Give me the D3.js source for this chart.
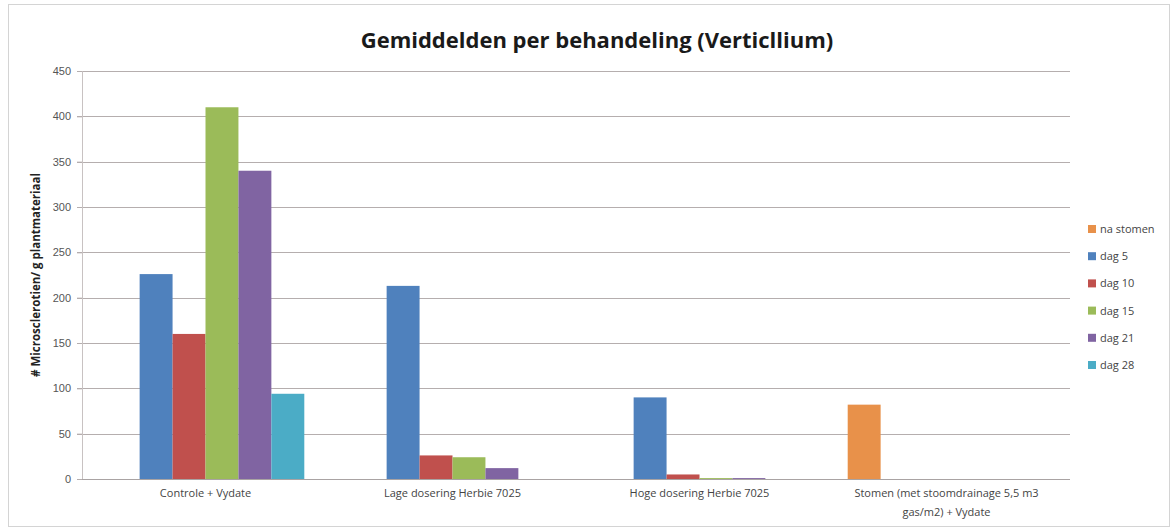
<!DOCTYPE html>
<html>
<head>
<meta charset="utf-8">
<script src="https://cdn.jsdelivr.net/npm/d3@7"></script>
<style>
  body { margin: 0; background: #fff; }
  svg { display: block; font-family: "Open Sans", "Noto Sans", sans-serif; }
</style>
</head>
<body>
<div id="chart"></div>
<script>
// Chart data
const categories = [
  "Controle + Vydate",
  "Lage dosering Herbie 7025",
  "Hoge dosering Herbie 7025",
  "Stomen (met stoomdrainage 5,5 m3|gas/m2) + Vydate"
];
const seriesNames = ["na stomen", "dag 5", "dag 10", "dag 15", "dag 21", "dag 28"];
const seriesColors = ["#E8914A", "#4F81BD", "#C0504D", "#9BBB59", "#8064A2", "#4BACC6"];
const naStomen = [0, 0, 0, 82];
const dag5 = [226, 213, 90, 0];
const dag10 = [160, 26, 5, 0];
const dag15 = [410, 24, 1, 0];
const dag21 = [340, 12, 1, 0];
const dag28 = [94, 0, 0, 0];
const yTicks = [0, 50, 100, 150, 200, 250, 300, 350, 400, 450];

const seriesValues = [naStomen, dag5, dag10, dag15, dag21, dag28];

const width = 1174, height = 530;
const margin = { top: 71, right: 104, bottom: 51, left: 82 };

const svg = d3.select("#chart").append("svg")
    .attr("width", width)
    .attr("height", height);

// outer frame
svg.append("rect")
    .attr("x", 8.5).attr("y", 4.5)
    .attr("width", width - 13).attr("height", height - 8)
    .attr("fill", "#fff")
    .attr("stroke", "#d4d4d4");

const x0 = d3.scaleBand()
    .domain(categories)
    .range([margin.left, width - margin.right])
    .paddingInner(0.2)
    .paddingOuter(0.1);

const x1 = d3.scaleBand()
    .domain(seriesNames)
    .range([0, x0.bandwidth()]);

const y = d3.scaleLinear()
    .domain([0, 450])
    .range([height - margin.bottom, margin.top]);

// grid lines
svg.append("g")
    .selectAll("line")
    .data(yTicks.filter(d => d > 0))
    .join("line")
    .attr("x1", margin.left - 5)
    .attr("x2", width - margin.right)
    .attr("y1", d => Math.round(y(d)) + 0.5)
    .attr("y2", d => Math.round(y(d)) + 0.5)
    .attr("stroke", "#b5aeae")
    .attr("stroke-width", 1);

// y axis
const yAxis = svg.append("g")
    .attr("transform", `translate(${margin.left},0)`)
    .call(d3.axisLeft(y).tickValues(yTicks).tickSize(5).tickPadding(6));
yAxis.select(".domain").attr("stroke", "#c8c2c2");
yAxis.selectAll(".tick line").attr("stroke", "#b5aeae");
yAxis.selectAll("text")
    .attr("fill", "#555")
    .style("font-size", "11px");

// bars
const groups = svg.append("g")
    .selectAll("g")
    .data(categories)
    .join("g")
    .attr("transform", d => `translate(${x0(d)},0)`);

groups.selectAll("rect")
    .data((c, ci) => seriesNames.map((s, si) => ({ s: s, v: seriesValues[si][ci], color: seriesColors[si] })))
    .join("rect")
    .attr("x", d => x1(d.s))
    .attr("width", x1.bandwidth())
    .attr("y", d => y(d.v))
    .attr("height", d => y(0) - y(d.v))
    .attr("fill", d => d.color);

// x axis line
svg.append("line")
    .attr("x1", margin.left)
    .attr("x2", width - margin.right)
    .attr("y1", Math.round(y(0)) + 0.5)
    .attr("y2", Math.round(y(0)) + 0.5)
    .attr("stroke", "#a9a3a3");

// category labels (| marks a line break)
svg.append("g")
    .selectAll("text")
    .data(categories)
    .join("text")
    .attr("x", d => x0(d) + x0.bandwidth() / 2)
    .attr("y", y(0) + 18)
    .attr("text-anchor", "middle")
    .attr("fill", "#444")
    .style("font-size", "11px")
    .each(function(d) {
        const lines = d.split("|");
        d3.select(this).selectAll("tspan")
            .data(lines)
            .join("tspan")
            .attr("x", x0(d) + x0.bandwidth() / 2)
            .attr("dy", (l, i) => i === 0 ? 0 : 19)
            .text(l => l);
    });

// title
svg.append("text")
    .attr("x", 597)
    .attr("y", 48)
    .attr("text-anchor", "middle")
    .attr("font-weight", "bold")
    .attr("fill", "#1a1a1a")
    .style("font-size", "22px")
    .text("Gemiddelden per behandeling (Verticllium)");

// y axis title
svg.append("text")
    .attr("transform", `translate(40,${(margin.top + height - margin.bottom) / 2}) rotate(-90)`)
    .attr("text-anchor", "middle")
    .attr("font-weight", "bold")
    .attr("fill", "#222")
    .style("font-size", "11.5px")
    .text("# Microsclerotien/ g plantmateriaal");

// legend
const legend = svg.append("g")
    .attr("transform", "translate(1088,229)");

const items = legend.selectAll("g")
    .data(seriesNames)
    .join("g")
    .attr("transform", (d, i) => `translate(0,${i * 27.2})`);

items.append("rect")
    .attr("x", 0).attr("y", -4)
    .attr("width", 8).attr("height", 8)
    .attr("fill", (d, i) => seriesColors[i]);

items.append("text")
    .attr("x", 12)
    .attr("y", 4)
    .attr("fill", "#444")
    .style("font-size", "11px")
    .text(d => d);
</script>
</body>
</html>
